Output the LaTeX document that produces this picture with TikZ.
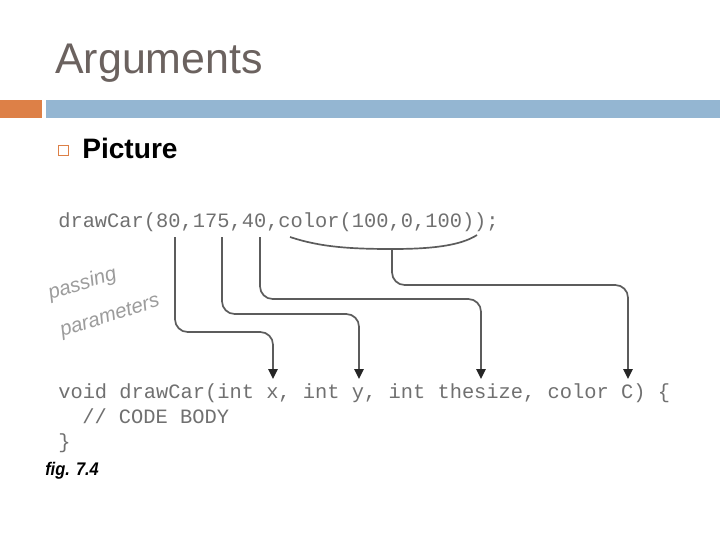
\documentclass[tikz,border=0pt]{standalone}
\usepackage{fontspec}
\setmainfont{Liberation Sans}
\setmonofont{Liberation Mono}
\usetikzlibrary{arrows.meta}
\definecolor{titlegray}{HTML}{6B625F}
\definecolor{barorange}{HTML}{DD8047}
\definecolor{barblue}{HTML}{94B6D2}
\definecolor{codegray}{HTML}{707070}
\definecolor{linegray}{HTML}{5C5C5C}
\definecolor{notegray}{HTML}{9C9C9C}
\tikzset{
  code/.style  = {anchor=base west, inner sep=0pt, text=codegray,
                  font=\fontsize{14.5}{17}\selectfont\ttfamily\frenchspacing},
  pass/.style  = {draw=linegray, line width=1.2pt, rounded corners=9pt,
                  -{Triangle[length=7pt,width=6.5pt,color=black!85]}},
  brace/.style = {draw=linegray, line width=1.2pt},
  note/.style  = {anchor=base west, inner sep=0pt, text=notegray, align=left,
                  font=\fontsize{14.5}{27.6}\selectfont\itshape},
}

\begin{document}
\begin{tikzpicture}[x=0.025cm, y=-0.025cm]
  \fill[white] (0,0) rectangle (720,540);
  \useasboundingbox (0,0) rectangle (720,540);
  % slide header
  \node[anchor=base west, inner sep=0pt, text=titlegray,
        font=\fontsize{30.5}{36}\selectfont] (title) at (55,73) {Arguments};
  \fill[barorange] (0,100) rectangle (42,118);
  \fill[barblue] (46,100) rectangle (720,118);
  \draw[barorange, line width=1pt] (58.5,145.5) rectangle (68.5,155.5);
  \node[anchor=base west, inner sep=0pt,
        font=\fontsize{20}{24}\selectfont\bfseries] (pic) at (82,158) {Picture};

  % the call and the definition
  \node[code] (call) at (58,227) {drawCar(80,175,40,color(100,0,100));};
  \node[code] (head) at (58,398) {void drawCar(int x, int y, int thesize, color C) \{};
  \node[code] (body) at (82,423) {// CODE BODY};
  \node[code] (close) at (58,448) {\}};

  \coordinate (a80)   at (175,237);
  \coordinate (a175)  at (222,237);
  \coordinate (a40)   at (260,237);
  \coordinate (bl)    at (290,237);
  \coordinate (bm)    at (392,249);
  \coordinate (br)    at (477,235);
  \coordinate (px)    at (273,379);
  \coordinate (py)    at (359,379);
  \coordinate (psize) at (481,379);
  \coordinate (pC)    at (628,379);

  \draw[pass] (a80)  |- (px |- 0,332) -- (px);
  \draw[pass] (a175) |- (py |- 0,314) -- (py);
  \draw[pass] (a40)  |- (psize |- 0,299) -- (psize);
  \draw[brace] (bl) .. controls (320,247) and (350,249) .. (bm)
               .. controls (430,249) and (460,246) .. (br);
  \draw[pass] (bm)   |- (pC |- 0,285) -- (pC);

  \node[note, rotate=17.5] (passing) at (62,337) {passing\\parameters};

  \node[anchor=base west, inner sep=0pt, xscale=0.9,
        font=\fontsize{13}{15}\selectfont\bfseries\itshape] (fig) at (45,475) {fig. 7.4};
\end{tikzpicture}
\end{document}
